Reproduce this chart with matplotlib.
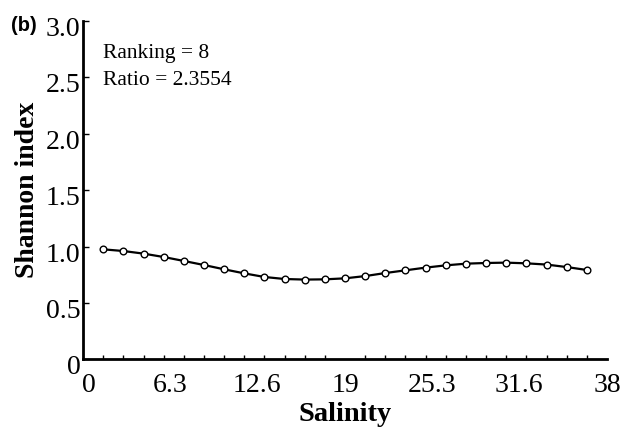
import numpy as np
import matplotlib.pyplot as plt
import matplotlib.transforms as mtransforms
from matplotlib.ticker import FixedLocator

# data
n_bins = 26
salinity = [(k + 1) * 38 / n_bins for k in range(25)]
shannon = [0.975, 0.960, 0.937, 0.907, 0.872, 0.836, 0.798, 0.762, 0.730,
           0.712, 0.707, 0.709, 0.718, 0.738, 0.765, 0.789, 0.813, 0.833,
           0.848, 0.854, 0.857, 0.851, 0.840, 0.818, 0.792]
xticks = [0, 6.3, 12.6, 19, 25.3, 31.6, 38]
xticklabels = ['0', '6.3', '12.6', '19', '25.3', '31.6', '38']
yticks = [0, 0.5, 1.0, 1.5, 2.0, 2.5, 3.0]
yticklabels = ['0', '0.5', '1.0', '1.5', '2.0', '2.5', '3.0']

plt.rcParams['font.family'] = ['Liberation Serif', 'DejaVu Serif']

fig = plt.figure(figsize=(6.2, 4.34), dpi=100)
ax = fig.add_axes([0.134, 0.172, 0.845, 0.78])

ax.plot(salinity, shannon, color='black', lw=1.6, marker='o', ms=4.8,
        mfc='white', mec='black', mew=1.0)

ax.set_xlim(0, 38)
ax.set_ylim(0, 3.0)
ax.set_xticks(xticks)
ax.set_xticklabels(xticklabels)
ax.set_yticks(yticks)
ax.set_yticklabels(yticklabels)
ax.xaxis.set_minor_locator(FixedLocator([(k + 1) * 38 / n_bins for k in range(26)]))

ax.tick_params(axis='x', which='major', length=0, labelsize=20, pad=10)
ax.tick_params(axis='x', which='minor', direction='in', length=3, width=1)
ax.tick_params(axis='y', which='major', direction='in', length=4, width=1,
               labelsize=20, pad=2)

# y labels sit a little below their ticks in the reference
shift = mtransforms.ScaledTranslation(0, -4 / 72, fig.dpi_scale_trans)
for lab in ax.get_yticklabels():
    lab.set_transform(lab.get_transform() + shift)
# the x "0" is nudged right, clear of the y "0"
xlab0 = ax.get_xticklabels()[0]
xlab0.set_transform(xlab0.get_transform() +
                    mtransforms.ScaledTranslation(4 / 72, 0, fig.dpi_scale_trans))

for s in ['top', 'right']:
    ax.spines[s].set_visible(False)
for s in ['left', 'bottom']:
    ax.spines[s].set_linewidth(2)

ax.set_xlabel('Salinity', fontsize=20.5, fontweight='bold', labelpad=3)
ax.set_ylabel('Shannon index', fontsize=20, fontweight='bold', labelpad=4)

ax.text(0.038, 0.8915, 'Ranking = 8', transform=ax.transAxes, fontsize=15.5,
        va='baseline', ha='left')
ax.text(0.038, 0.81, 'Ratio = 2.3554', transform=ax.transAxes, fontsize=15.5,
        va='baseline', ha='left')

fig.text(0.018, 0.962, '(b)', fontsize=14.5, fontweight='bold',
         family='Liberation Sans', va='top', ha='left')

fig.savefig('out.png', dpi=100)
